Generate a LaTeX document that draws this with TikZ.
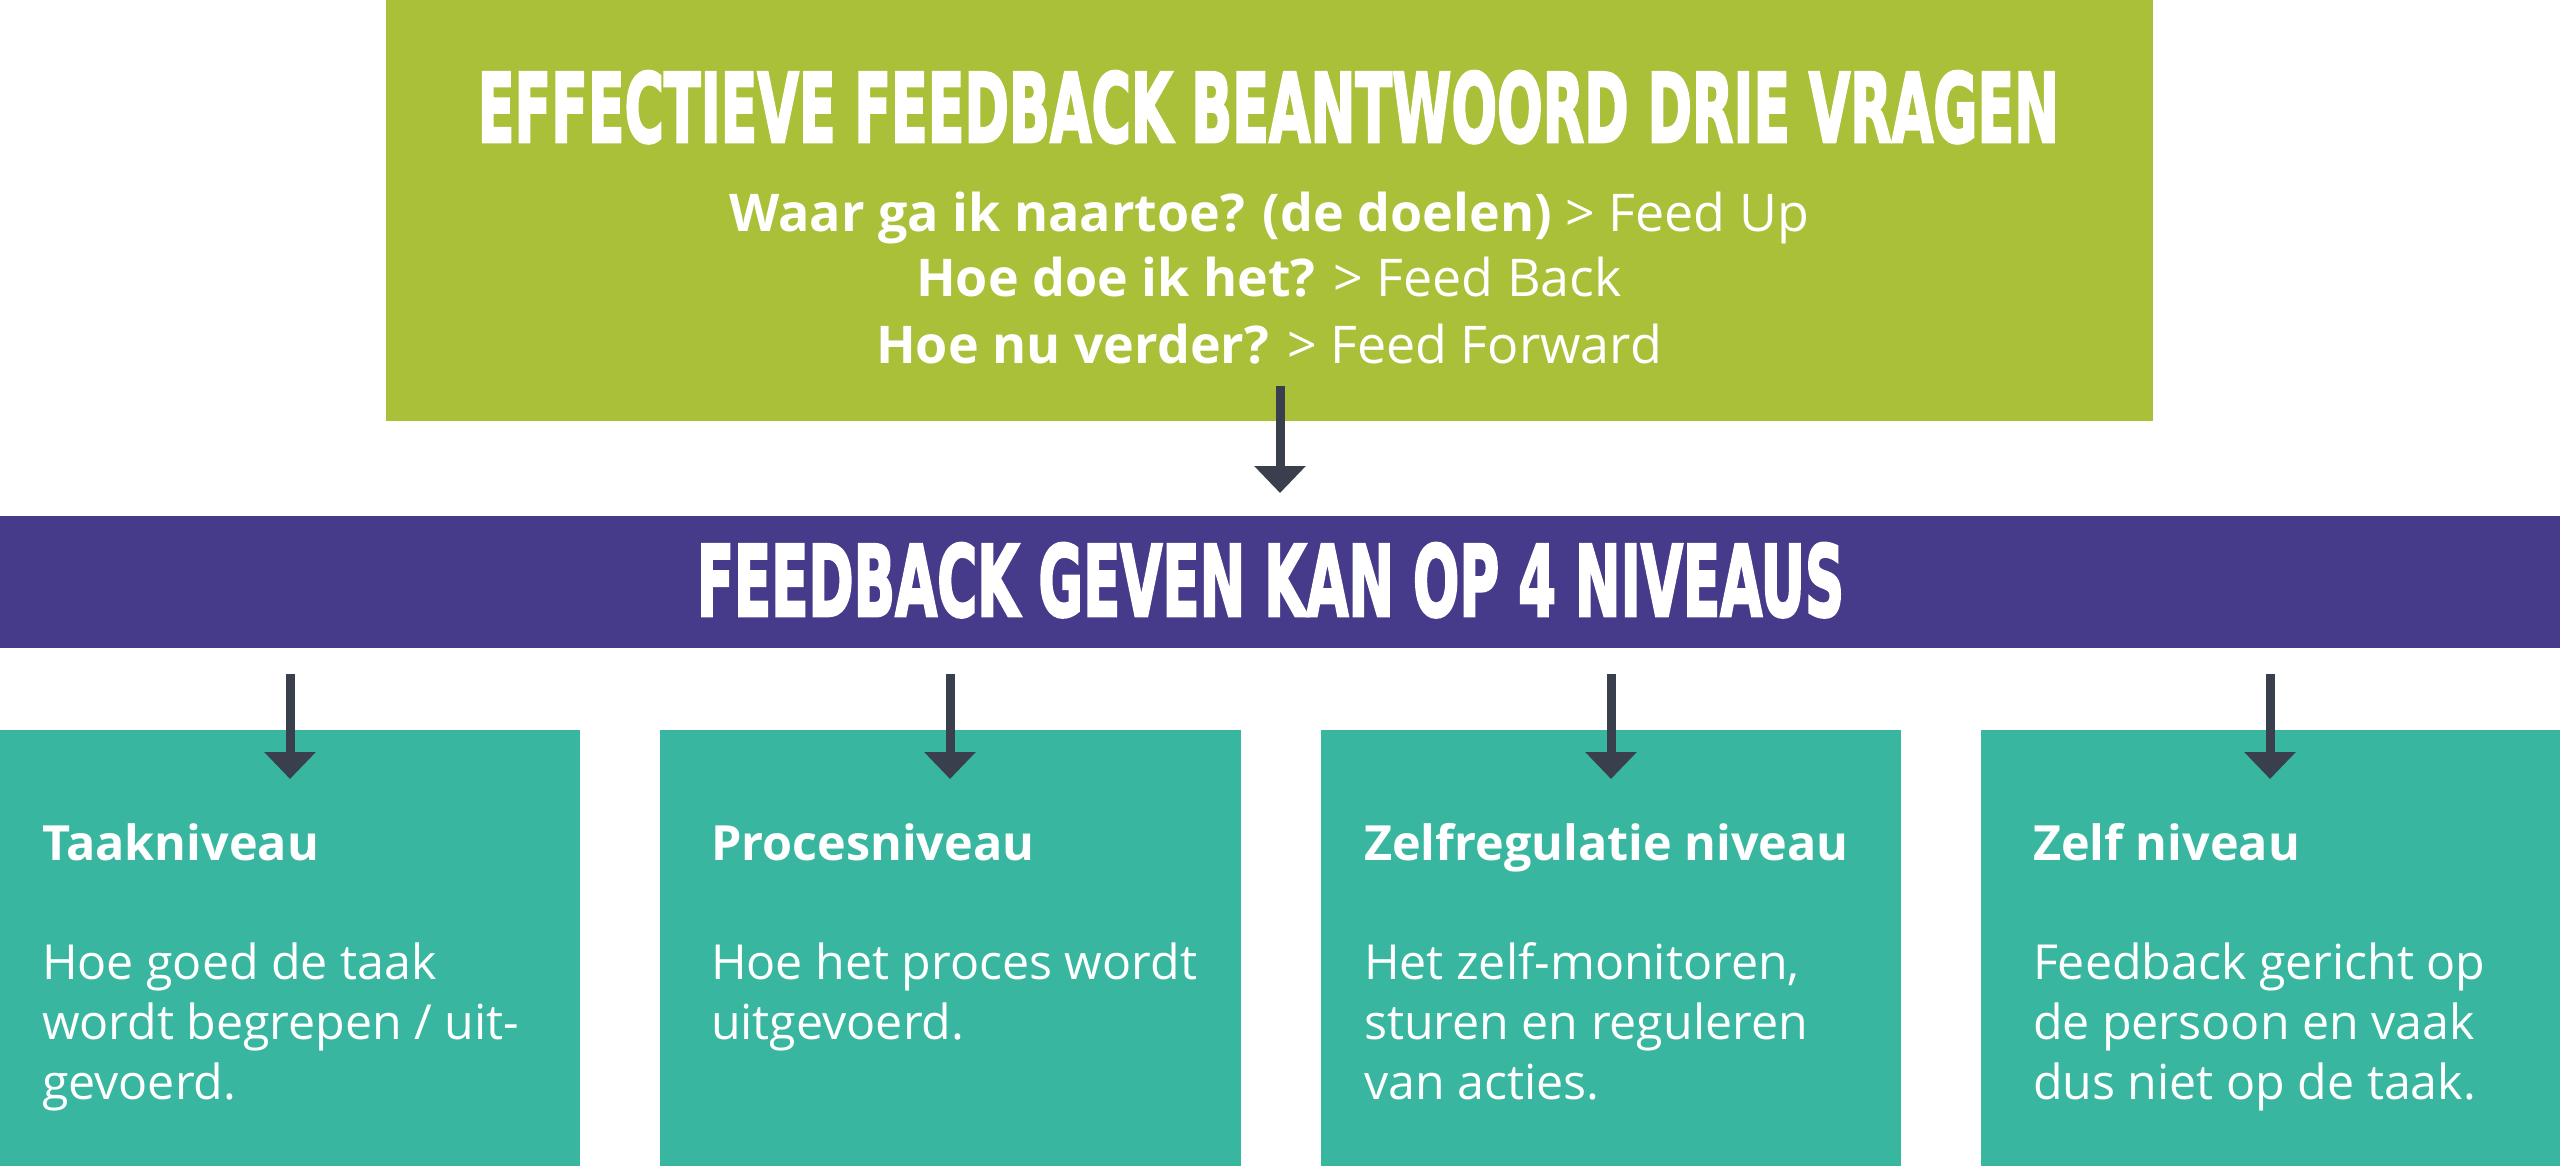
\documentclass[tikz,border=0pt]{standalone}
\usepackage{fontspec}
\setmainfont{Open Sans}
\newfontfamily\titlefont{DejaVu Sans Bold}[FakeBold=3]
\usetikzlibrary{arrows.meta}
\definecolor{cgreen}{HTML}{A9C038}
\definecolor{cpurple}{HTML}{463B8A}
\definecolor{cteal}{HTML}{38B69F}
\definecolor{carrow}{HTML}{3A3F4E}
\tikzset{
  panel/.style={fill=#1, draw=none, inner sep=0pt, outer sep=0pt, anchor=north west},
  conn/.style={draw=carrow, line width=9pt, -{Triangle[width=50pt,length=27pt]}},
  txt/.style={text=white, inner sep=0pt, outer sep=0pt},
  qbold/.style={txt, font=\fontsize{52}{65}\selectfont\bfseries},
  lvlhead/.style={txt, anchor=base west, font=\fontsize{48.5}{60}\selectfont\bfseries},
  lvlbody/.style={txt, anchor=base west, font=\fontsize{48.3}{60}\selectfont},
}
\begin{document}
\begin{tikzpicture}[x=1pt,y=-1pt]
\useasboundingbox (0,0) rectangle (2560,1166);
\fill[white] (0,0) rectangle (2560,1166);
% panels
\node[panel=cgreen, minimum width=1767pt, minimum height=421pt] (top) at (386,0) {};
\node[panel=cpurple, minimum width=2560pt, minimum height=132pt] (band) at (0,516) {};
\node[panel=cteal, minimum width=580pt, minimum height=436pt] (lv1) at (0,730) {};
\node[panel=cteal, minimum width=581pt, minimum height=436pt] (lv2) at (660,730) {};
\node[panel=cteal, minimum width=580pt, minimum height=436pt] (lv3) at (1321,730) {};
\node[panel=cteal, minimum width=579pt, minimum height=436pt] (lv4) at (1981,730) {};
% titles
\node[txt, anchor=base] (t1) at (1268.5,142) {\titlefont\resizebox{1581pt}{71pt}{EFFECTIEVE FEEDBACK BEANTWOORD DRIE VRAGEN}};
\node[txt, anchor=base] (t2) at (1270.5,616) {\titlefont\resizebox{1147pt}{73pt}{FEEDBACK GEVEN KAN OP 4 NIVEAUS}};
% questions
\node[qbold, anchor=base] (q1) at (1269,232) {Waar ga ik naartoe? (de doelen) \mdseries> Feed Up};
\node[qbold, anchor=base] (q2) at (1269,297) {Hoe doe ik het? \mdseries> Feed Back};
\node[qbold, anchor=base] (q3) at (1269,363) {Hoe nu verder? \mdseries> Feed Forward};
% connectors
\coordinate (a0s) at (1280,386);
\coordinate (a0e) at (1280,493);
\draw[conn] (a0s) -- (a0e);
\foreach \i/\x in {1/290,2/950,3/1611,4/2270}{
  \coordinate (a\i s) at (\x,674);
  \coordinate (a\i e) at (\x,779);
  \draw[conn] (a\i s) -- (a\i e);
}
% level texts
\node[lvlhead] (h1) at (42,860) {Taakniveau};
\node[lvlbody] (b1a) at (42,979) {Hoe goed de taak};
\node[lvlbody] (b1b) at (42,1039) {wordt begrepen / uit-};
\node[lvlbody] (b1c) at (42,1099) {gevoerd.};
\node[lvlhead] (h2) at (711,860) {Procesniveau};
\node[lvlbody] (b2a) at (711,979) {Hoe het proces wordt};
\node[lvlbody] (b2b) at (711,1039) {uitgevoerd.};
\node[lvlhead] (h3) at (1364,860) {Zelfregulatie niveau};
\node[lvlbody] (b3a) at (1364,979) {Het zelf-monitoren,};
\node[lvlbody] (b3b) at (1364,1039) {sturen en reguleren};
\node[lvlbody] (b3c) at (1364,1099) {van acties.};
\node[lvlhead] (h4) at (2033,860) {Zelf niveau};
\node[lvlbody] (b4a) at (2033,979) {Feedback gericht op};
\node[lvlbody] (b4b) at (2033,1039) {de persoon en vaak};
\node[lvlbody] (b4c) at (2033,1099) {dus niet op de taak.};
\end{tikzpicture}
\end{document}
